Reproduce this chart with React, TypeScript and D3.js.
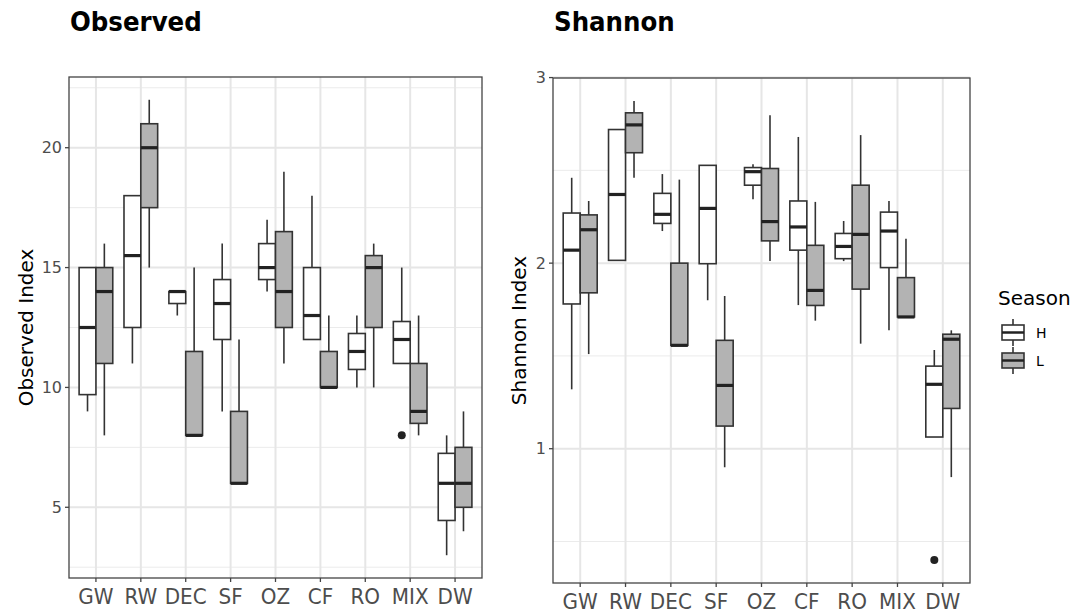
import React from "react";
import * as d3 from "d3";

const categories = ["GW", "RW", "DEC", "SF", "OZ", "CF", "RO", "MIX", "DW"];
const seasons = ["H", "L"];

// [lower whisker, q1, median, q3, upper whisker]
const observedH = [
  [9, 9.7, 12.5, 15, 15],
  [11, 12.5, 15.5, 18, 18],
  [13, 13.5, 14, 14, 14],
  [9, 12, 13.5, 14.5, 16],
  [14, 14.5, 15, 16, 17],
  [12, 12, 13, 15, 18],
  [10, 10.75, 11.5, 12.25, 13],
  [11, 11, 12, 12.75, 15],
  [3, 4.45, 6, 7.25, 8],
];
const observedL = [
  [8, 11, 14, 15, 16],
  [15, 17.5, 20, 21, 22],
  [8, 8, 8, 11.5, 15],
  [6, 6, 6, 9, 12],
  [11, 12.5, 14, 16.5, 19],
  [10, 10, 10, 11.5, 13],
  [10, 12.5, 15, 15.5, 16],
  [8, 8.5, 9, 11, 13],
  [4, 5, 6, 7.5, 9],
];
const shannonH = [
  [1.32, 1.78, 2.07, 2.27, 2.46],
  [2.015, 2.015, 2.37, 2.72, 2.72],
  [2.173, 2.214, 2.263, 2.376, 2.48],
  [1.8, 1.997, 2.295, 2.527, 2.527],
  [2.344, 2.42, 2.493, 2.515, 2.533],
  [1.774, 2.07, 2.195, 2.335, 2.68],
  [2.011, 2.024, 2.09, 2.16, 2.227],
  [1.638, 1.976, 2.173, 2.275, 2.335],
  [1.063, 1.063, 1.347, 1.445, 1.532],
];
const shannonL = [
  [1.51, 1.84, 2.18, 2.26, 2.335],
  [2.46, 2.595, 2.745, 2.81, 2.874],
  [1.557, 1.557, 1.557, 2.0, 2.45],
  [0.9, 1.122, 1.341, 1.584, 1.823],
  [2.011, 2.12, 2.224, 2.51, 2.797],
  [1.69, 1.772, 1.853, 2.096, 2.33],
  [1.566, 1.86, 2.155, 2.42, 2.69],
  [1.71, 1.71, 1.71, 1.922, 2.132],
  [0.847, 1.217, 1.59, 1.617, 1.638],
];
const observedOutliers = [{ cat: "MIX", season: "H", value: 8 }];
const shannonOutliers = [{ cat: "DW", season: "H", value: 0.4 }];
const observedTicks = [5, 10, 15, 20];
const shannonTicks = [1, 2, 3];
const seasonFills = ["#ffffff", "#b3b3b3"];

const FONT = "'DejaVu Sans', Verdana, sans-serif";

type PanelProps = {
  title: string;
  yTitle: string;
  H: number[][];
  L: number[][];
  outliers: { cat: string; season: string; value: number }[];
  ticks: number[];
  x0: number;
  x1: number;
  y0: number;
  y1: number;
  titleOffset: number;
};

function Panel({ title, yTitle, H, L, outliers, ticks, x0, x1, y0, y1, titleOffset }: PanelProps) {
  const all = [...H.flat(), ...L.flat(), ...outliers.map((o) => o.value)];
  const [mn, mx] = d3.extent(all) as [number, number];
  const pad = (mx - mn) * 0.05;
  const y = d3.scaleLinear().domain([mn - pad, mx + pad]).range([y1, y0]);
  // ggplot discrete expansion: 0.6 units each side
  const x = d3
    .scalePoint()
    .domain(categories)
    .range([x0, x1])
    .padding(0.6);
  const step = x.step();
  const cx = (c: string) => x(c) as number;
  const boxW = step * 0.375;
  const offs = [-step * 0.1875, step * 0.1875];
  const minorTicks: number[] = [];
  const tstep = ticks[1] - ticks[0];
  for (let v = ticks[0] - tstep / 2; v <= mx + pad; v += tstep) {
    if (v >= mn - pad) minorTicks.push(v);
  }
  const series = [H, L];
  return (
    <g>
      <text
        transform={`translate(${x0 + 1},31) scale(1,1.1)`}
        fontFamily={FONT}
        fontWeight="bold"
        fontSize={24.5}
        fill="#000"
      >
        {title}
      </text>
      <rect x={x0} y={y0} width={x1 - x0} height={y1 - y0} fill="#fff" />
      {minorTicks.map((v) => (
        <line key={"mi" + v} x1={x0} x2={x1} y1={y(v)} y2={y(v)} stroke="#ebebeb" strokeWidth={1} />
      ))}
      {ticks.map((v) => (
        <line key={"ma" + v} x1={x0} x2={x1} y1={y(v)} y2={y(v)} stroke="#e6e6e6" strokeWidth={2} />
      ))}
      {categories.map((c) => (
        <line key={"gx" + c} x1={cx(c)} x2={cx(c)} y1={y0} y2={y1} stroke="#e6e6e6" strokeWidth={2} />
      ))}
      {categories.map((c, i) =>
        series.map((s, si) => {
          const [lo, q1, med, q3, hi] = s[i];
          const xc = cx(c) + offs[si];
          return (
            <g key={c + si}>
              <line x1={xc} x2={xc} y1={y(hi)} y2={y(q3)} stroke="#333" strokeWidth={1.6} />
              <line x1={xc} x2={xc} y1={y(q1)} y2={y(lo)} stroke="#333" strokeWidth={1.6} />
              <rect
                x={xc - boxW / 2}
                y={y(q3)}
                width={boxW}
                height={Math.max(y(q1) - y(q3), 0.5)}
                fill={seasonFills[si]}
                stroke="#333"
                strokeWidth={1.6}
              />
              <line
                x1={xc - boxW / 2}
                x2={xc + boxW / 2}
                y1={y(med)}
                y2={y(med)}
                stroke="#222"
                strokeWidth={3.2}
              />
            </g>
          );
        })
      )}
      {outliers.map((o, i) => (
        <circle
          key={"o" + i}
          cx={cx(o.cat) + offs[seasons.indexOf(o.season)]}
          cy={y(o.value)}
          r={4}
          fill="#222"
        />
      ))}
      <rect x={x0} y={y0} width={x1 - x0} height={y1 - y0} fill="none" stroke="#444" strokeWidth={1.3} />
      {ticks.map((v) => (
        <g key={"yt" + v}>
          <line x1={x0 - 4} x2={x0} y1={y(v)} y2={y(v)} stroke="#444" strokeWidth={1.3} />
          <text
            x={x0 - 7}
            y={y(v)}
            dy="0.36em"
            textAnchor="end"
            fontFamily={FONT}
            fontSize={16}
            fill="#4d4d4d"
          >
            {v}
          </text>
        </g>
      ))}
      {categories.map((c) => (
        <g key={"xt" + c}>
          <line x1={cx(c)} x2={cx(c)} y1={y1} y2={y1 + 4} stroke="#444" strokeWidth={1.3} />
          <text
            transform={`translate(${cx(c)},${y1 + 26}) scale(1,1.1)`}
            textAnchor="middle"
            fontFamily={FONT}
            fontSize={20}
            fill="#4d4d4d"
          >
            {c}
          </text>
        </g>
      ))}
      <text
        transform={`translate(${x0 - titleOffset},${(y0 + y1) / 2}) rotate(-90)`}
        textAnchor="middle"
        fontFamily={FONT}
        fontSize={20}
        fill="#000"
      >
        {yTitle}
      </text>
    </g>
  );
}

export default function App() {
  return (
    <svg width={1077} height={613} style={{ position: "absolute", left: 0, top: 0, background: "#fff" }}>
      <rect width={1077} height={613} fill="#fff" />
      <Panel
        title="Observed"
        yTitle="Observed Index"
        H={observedH}
        L={observedL}
        outliers={observedOutliers}
        ticks={observedTicks}
        x0={69}
        x1={482}
        y0={77}
        y1={578}
        titleOffset={36}
      />
      <Panel
        title="Shannon"
        yTitle="Shannon Index"
        H={shannonH}
        L={shannonL}
        outliers={shannonOutliers}
        ticks={shannonTicks}
        x0={553}
        x1={970}
        y0={78}
        y1={583}
        titleOffset={27}
      />
      <g>
        <text x={998} y={305} fontFamily={FONT} fontSize={20} fill="#000">
          Season
        </text>
        {seasons.map((s, i) => {
          const top = 325 + i * 28;
          return (
            <g key={s}>
              <line x1={1013} x2={1013} y1={top - 6} y2={top + 21} stroke="#333" strokeWidth={1.6} />
              <rect x={1002} y={top} width={22} height={15} fill={seasonFills[i]} stroke="#333" strokeWidth={1.6} />
              <line x1={1002} x2={1024} y1={top + 7.5} y2={top + 7.5} stroke="#222" strokeWidth={2.5} />
              <text x={1036} y={top + 8} dy="0.36em" fontFamily={FONT} fontSize={14} fill="#000">
                {s}
              </text>
            </g>
          );
        })}
      </g>
    </svg>
  );
}
